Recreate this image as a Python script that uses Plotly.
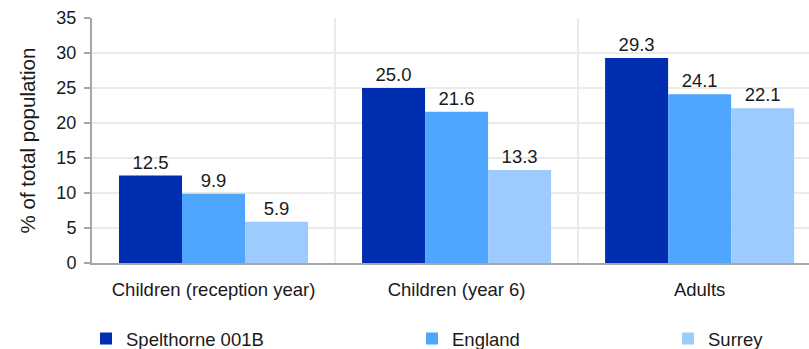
import plotly.graph_objects as go

CATEGORIES = ["Children (reception year)", "Children (year 6)", "Adults"]
SERIES = ["Spelthorne 001B", "England", "Surrey"]
VALUES = {
    "Spelthorne 001B": [12.5, 25.0, 29.3],
    "England": [9.9, 21.6, 24.1],
    "Surrey": [5.9, 13.3, 22.1],
}
COLORS = {
    "Spelthorne 001B": "#012db1",
    "England": "#4ea6ff",
    "Surrey": "#9dcbff",
}
Y_TICKS = [0, 5, 10, 15, 20, 25, 30, 35]

FONT = "Liberation Sans, Arial, sans-serif"
TEXT = "#1a1a1a"
AXIS_GREY = "#a6a6a6"
GRID_GREY = "#ebebeb"

W, H = 809, 349
M_L, M_R, M_T, M_B = 92, 0, 18, 0
paper_w = W - M_L - M_R
paper_h = H - M_T - M_B
axis_bottom_px = 263  # where y=0 sits

# the legend entries are spread unevenly, so each series gets its own legend
legend_left_px = [86, 412, 668]
legend_names = ["legend", "legend2", "legend3"]
legend_mid_px = 339

fig = go.Figure()
xs = list(range(len(CATEGORIES)))
for name, leg in zip(SERIES, legend_names):
    fig.add_trace(
        go.Bar(
            name=name,
            x=xs,
            y=VALUES[name],
            marker_color=COLORS[name],
            marker_line_width=0,
            text=[f"{v:.1f}" for v in VALUES[name]],
            textposition="outside",
            textfont=dict(size=18.5, color=TEXT, family=FONT),
            cliponaxis=False,
            legend=leg,
            showlegend=True,
        )
    )

legends = {}
for leg, left in zip(legend_names, legend_left_px):
    legends[leg] = dict(
        x=(left - M_L) / paper_w,
        xanchor="left",
        y=(H - M_B - legend_mid_px) / paper_h,
        yanchor="middle",
        orientation="h",
        font=dict(size=18.5, color=TEXT, family=FONT),
        bgcolor="rgba(0,0,0,0)",
        itemwidth=30,
    )

fig.update_layout(
    width=W,
    height=H,
    margin=dict(l=M_L, r=M_R, t=M_T, b=M_B, autoexpand=False),
    paper_bgcolor="white",
    plot_bgcolor="white",
    barmode="group",
    bargap=0.222,
    bargroupgap=0,
    showlegend=True,
    font=dict(family=FONT, color=TEXT),
    **legends,
)

fig.update_xaxes(
    range=[-0.5, 2.45],
    tickvals=xs,
    ticktext=CATEGORIES,
    tickfont=dict(size=18.5, family=FONT, color=TEXT),
    showline=True,
    linecolor=AXIS_GREY,
    linewidth=2,
    showgrid=False,
    ticks="",
    ticklabelstandoff=9,
    zeroline=False,
    automargin=False,
    minor=dict(tickvals=[0.5, 1.5], showgrid=True, gridcolor=GRID_GREY, gridwidth=2, ticks=""),
)
fig.update_yaxes(
    domain=[(H - M_B - axis_bottom_px) / paper_h, 1],
    range=[0, 35],
    tickvals=Y_TICKS,
    tickfont=dict(size=18, family=FONT, color=TEXT),
    showline=True,
    linecolor=AXIS_GREY,
    linewidth=2,
    ticks="outside",
    ticklen=6,
    tickcolor=AXIS_GREY,
    tickwidth=2,
    ticklabelstandoff=4,
    gridcolor=GRID_GREY,
    gridwidth=2,
    zeroline=False,
    automargin=False,
    title=dict(text="% of total population", font=dict(size=20.5, family=FONT, color=TEXT), standoff=15),
)

# drop the browser's default body margin so the figure sits at the page corner
fig.write_html(
    "out.html",
    config={"displayModeBar": False},
    post_script="document.body.style.margin = '0';",
)
